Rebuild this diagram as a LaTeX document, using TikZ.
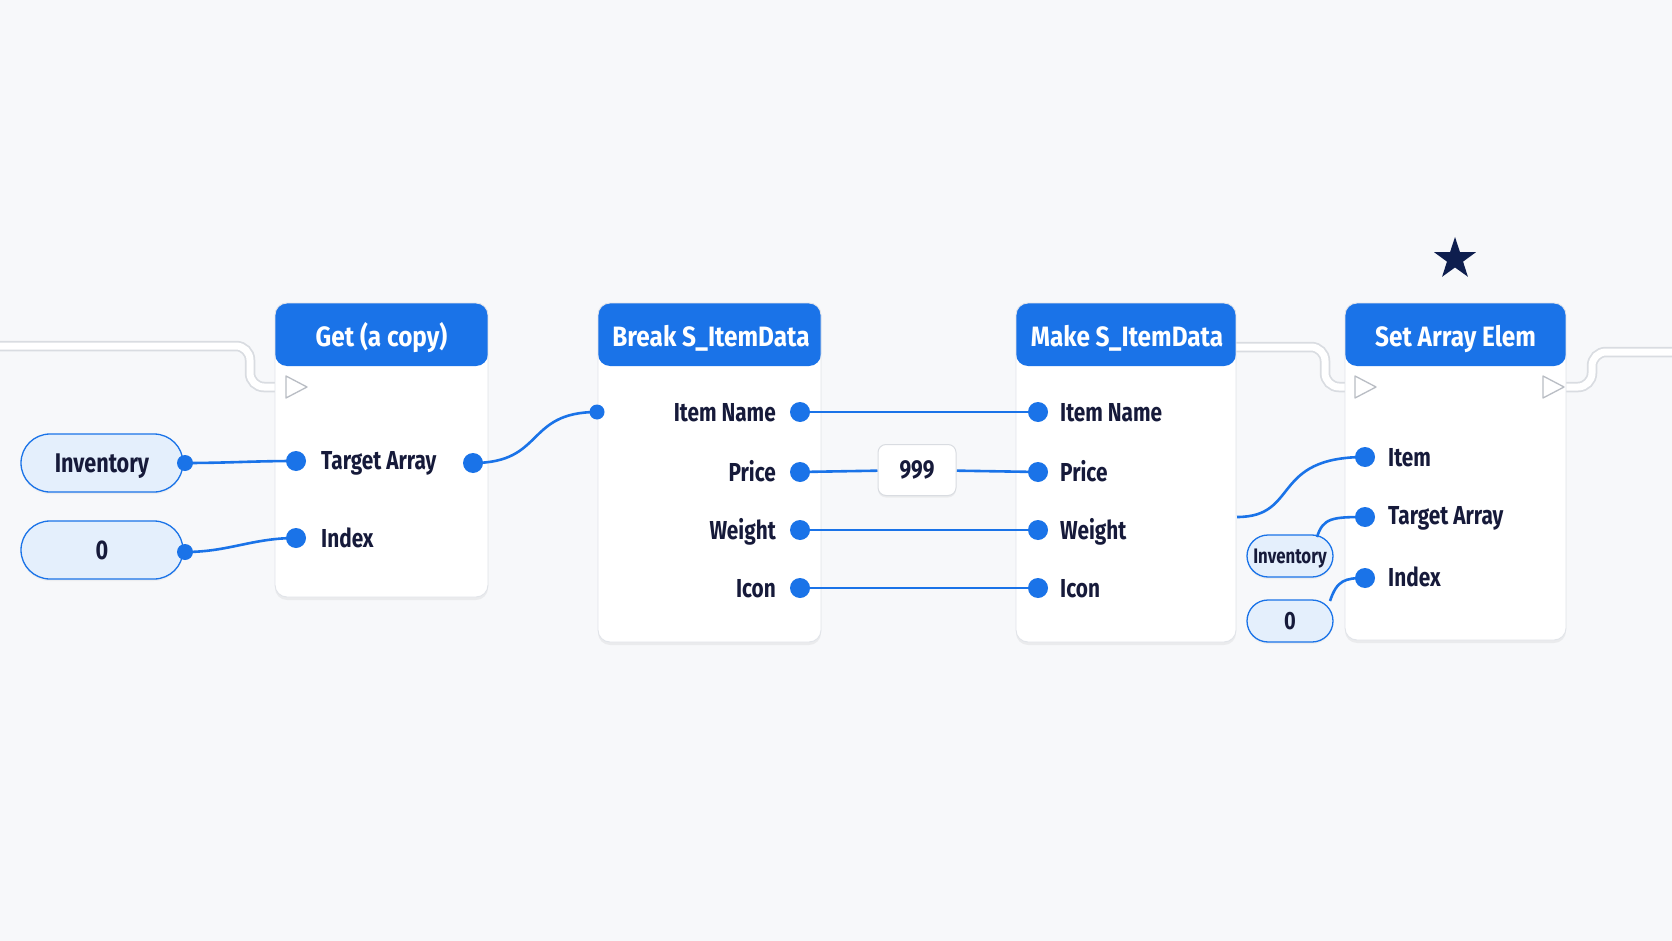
\documentclass[tikz,border=0pt]{standalone}
\usepackage{fontspec}
\setmainfont{Fira Sans}[FakeStretch=0.8]
\newfontfamily\titlefont{Fira Sans}[FakeStretch=0.87]
\usetikzlibrary{shapes.geometric,shapes.misc,shadows}
\definecolor{nodeblue}{HTML}{1A73E8}
\definecolor{ink}{HTML}{161A3A}
\definecolor{pillfill}{HTML}{E4EFFC}
\definecolor{bg}{HTML}{F7F8FA}
\definecolor{boxline}{HTML}{E1E4E9}
\definecolor{execline}{HTML}{D9DCE1}
\definecolor{trigray}{HTML}{B9BDC4}
\definecolor{starnavy}{HTML}{0E1E4E}
\pgfdeclarelayer{wires}
\pgfdeclarelayer{top}
\pgfsetlayers{main,wires,top}
\begin{document}
\begin{tikzpicture}[x=1pt,y=-1pt,
  box/.style={draw=boxline, line width=0.9pt, fill=white, rounded corners=12pt, inner sep=0pt,
    drop shadow={shadow xshift=0pt, shadow yshift=-3pt, opacity=0.10},
    path picture={\fill[nodeblue] (path picture bounding box.north west) rectangle ([yshift=-63pt]path picture bounding box.north east);}},
  title/.style={text=white, font=\titlefont\bfseries\fontsize{28}{32}\selectfont, inner sep=0pt, text height=19.3pt, text depth=0pt},
  lbl/.style={text=ink, font=\bfseries\fontsize{26}{30}\selectfont, inner sep=0pt, text height=17.9pt, text depth=0pt},
  pin/.style={circle, fill=nodeblue, inner sep=0pt, minimum size=20pt},
  wire/.style={draw=nodeblue, line width=2.6pt},
  exec/.style={draw=white, line width=7pt, rounded corners=14pt, preaction={draw=execline, line width=10.5pt}},
  exectri/.style={draw=trigray, fill=white, line width=1.3pt, line join=round},
  pill/.style={rounded rectangle, draw=nodeblue, line width=1.3pt, fill=pillfill, text=ink, inner sep=0pt,
    drop shadow={shadow xshift=0pt, shadow yshift=-2pt, opacity=0.08}},
  valbox/.style={draw=execline, line width=1pt, fill=white, rounded corners=8pt, text=ink, inner sep=0pt,
    drop shadow={shadow xshift=0pt, shadow yshift=-2pt, opacity=0.10}},
]
\fill[bg] (0,0) rectangle (1672,941);
\useasboundingbox (0,0) rectangle (1672,941);

% exec wires (under the boxes)
\coordinate (ex0) at (0,346);
\coordinate (gexec) at (286,387);
\coordinate (mkexec) at (1230,347);
\coordinate (sexec) at (1355,387);
\coordinate (sexecout) at (1558,387);
\coordinate (ex1) at (1672,352);
\draw[exec] (ex0) -- (250,346) -- (250,387) -- (gexec);
\draw[exec] (mkexec) -- (1325,347) -- (1325,387) -- (sexec);
\draw[exec] (sexecout) -- (1592,387) -- (1592,352) -- (ex1);

% boxes
\node[box, minimum width=213pt, minimum height=294pt] (get) at (381.5,450) {};
\node[box, minimum width=223pt, minimum height=339pt] (brk) at (709.5,472.5) {};
\node[box, minimum width=220pt, minimum height=339pt] (mk) at (1126,472.5) {};
\node[box, minimum width=221pt, minimum height=337pt] (set) at (1455.5,471.5) {};

\node[title] (get-t) at (381.5,337) {Get (a copy)};
\node[title] (brk-t) at (711,337) {Break S\_ItemData};
\node[title] (mk-t) at (1127,337) {Make S\_ItemData};
\node[title] (set-t) at (1455.5,337) {Set Array Elem};

% exec triangles
\draw[exectri] (286,376) -- (307,387) -- (286,398) -- cycle;
\draw[exectri] (1355,376) -- (1376,387) -- (1355,398) -- cycle;
\draw[exectri] (1543,376) -- (1564,387) -- (1543,398) -- cycle;

% star
\node[star, star points=5, star point ratio=2.6, fill=starnavy, minimum size=44pt, inner sep=0pt] (star) at (1455,259) {};

% pills
\node[pill, minimum width=162pt, minimum height=58pt, font=\bfseries\fontsize{27}{30}\selectfont, text height=18.6pt, text depth=0pt] (inv) at (102,463) {Inventory};
\node[pill, minimum width=162pt, minimum height=58pt, font=\bfseries\fontsize{27}{30}\selectfont, text height=18.6pt, text depth=0pt] (zero) at (102,550) {0};
\node[pill, minimum width=86pt, minimum height=42pt, font=\bfseries\fontsize{21}{24}\selectfont, text height=14.5pt, text depth=0pt] (sinv) at (1290,556) {Inventory};
\node[pill, minimum width=86pt, minimum height=42pt, font=\bfseries\fontsize{25}{28}\selectfont, text height=17.2pt, text depth=0pt] (szero) at (1290,621) {0};

% labels
\node[lbl, anchor=west] (g-ta-l) at (321,461) {Target Array};
\node[lbl, anchor=west] (g-ix-l) at (321,539) {Index};
\node[lbl, anchor=east] (b-in-l) at (776,413) {Item Name};
\node[lbl, anchor=east] (b-pr-l) at (776,473) {Price};
\node[lbl, anchor=east] (b-wt-l) at (776,531) {Weight};
\node[lbl, anchor=east] (b-ic-l) at (776,589) {Icon};
\node[lbl, anchor=west] (m-in-l) at (1060,413) {Item Name};
\node[lbl, anchor=west] (m-pr-l) at (1060,473) {Price};
\node[lbl, anchor=west] (m-wt-l) at (1060,531) {Weight};
\node[lbl, anchor=west] (m-ic-l) at (1060,589) {Icon};
\node[lbl, anchor=west] (s-it-l) at (1388,458) {Item};
\node[lbl, anchor=west] (s-ta-l) at (1388,516) {Target Array};
\node[lbl, anchor=west] (s-ix-l) at (1388,578) {Index};

% pins and value box
\begin{pgfonlayer}{top}
\node[pin, minimum size=16pt] (inv-o) at (185,463) {};
\node[pin, minimum size=16pt] (zero-o) at (185,552) {};
\node[pin] (g-ta) at (296,461) {};
\node[pin] (g-ix) at (296,538) {};
\node[pin] (g-out) at (473,463) {};
\node[pin, minimum size=15pt] (b-in) at (597,412) {};
\node[pin] (b-o1) at (800,412) {};
\node[pin] (b-o2) at (800,472) {};
\node[pin] (b-o3) at (800,530) {};
\node[pin] (b-o4) at (800,588) {};
\node[pin] (m-i1) at (1038,412) {};
\node[pin] (m-i2) at (1038,472) {};
\node[pin] (m-i3) at (1038,530) {};
\node[pin] (m-i4) at (1038,588) {};
\node[pin] (s-it) at (1365,457) {};
\node[pin] (s-ta) at (1365,517) {};
\node[pin] (s-ix) at (1365,578) {};
\node[valbox, minimum width=78pt, minimum height=51pt, font=\bfseries\fontsize{26}{30}\selectfont, text height=17.9pt, text depth=0pt] (v999) at (917,470) {999};
\end{pgfonlayer}

% data wires
\coordinate (mkout) at (1237,517);
\coordinate (sinvout) at (1317,537);
\coordinate (szeroout) at (1330,601);
\begin{pgfonlayer}{wires}
\draw[wire] (inv-o.center) to[out=0,in=180] (g-ta.center);
\draw[wire] (zero-o.center) to[out=0,in=180] (g-ix.center);
\draw[wire] (g-out.center) .. controls (545,463) and (525,412) .. (b-in.center);
\draw[wire] (b-o1.center) -- (m-i1.center);
\draw[wire] (b-o2.center) -- (v999) -- (m-i2.center);
\draw[wire] (b-o3.center) -- (m-i3.center);
\draw[wire] (b-o4.center) -- (m-i4.center);
\draw[wire] (mkout) .. controls (1300,517) and (1270,457) .. (s-it.center);
\draw[wire] (sinvout) .. controls (1323,518) and (1332,517) .. (s-ta.center);
\draw[wire] (szeroout) .. controls (1337,580) and (1345,578) .. (s-ix.center);
\end{pgfonlayer}
\end{tikzpicture}
\end{document}
